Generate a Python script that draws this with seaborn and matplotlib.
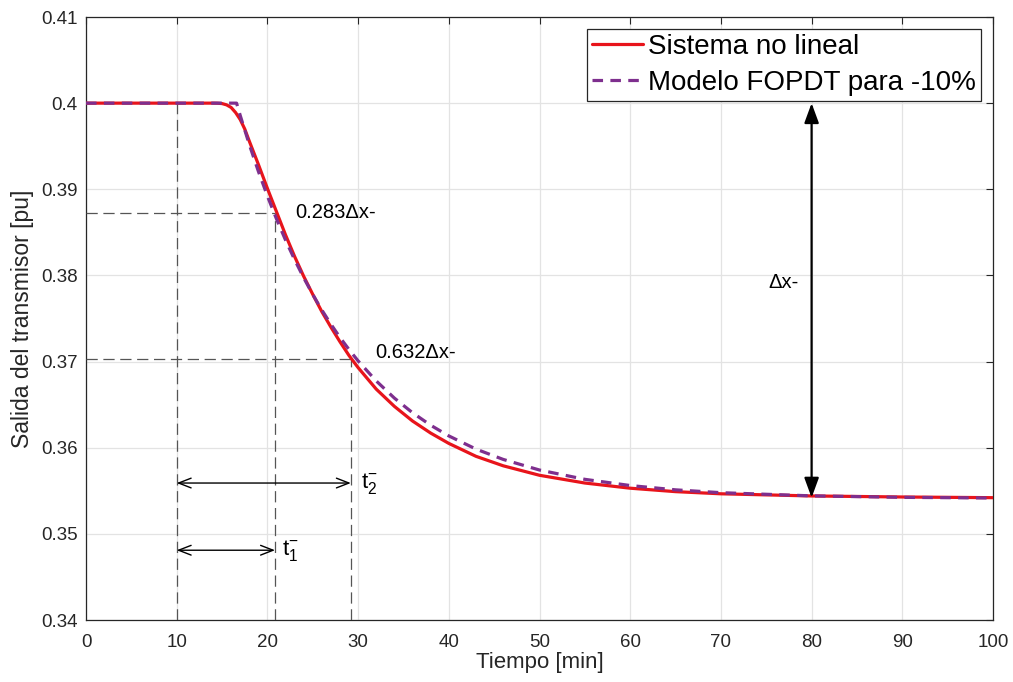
import matplotlib
matplotlib.use("Agg")
import matplotlib.pyplot as plt
import pandas as pd
import seaborn as sns

# ---- data ----
t_sys = [0, 10, 14, 14.5, 15, 15.5, 16, 16.5, 17, 17.5, 18, 19, 20, 21, 22, 23, 24, 25,
         26, 27, 28, 29, 30, 32, 34, 36, 38, 40, 43, 46, 50, 55, 60, 65, 70, 80, 90, 100]
y_sys = [0.4, 0.4, 0.4, 0.39999, 0.39995, 0.3998, 0.3995, 0.3989, 0.3981, 0.3970, 0.3956,
         0.3929, 0.3901, 0.3874, 0.3847, 0.3822, 0.3799, 0.3778, 0.3758, 0.3740, 0.3723,
         0.3707, 0.3693, 0.3668, 0.3648, 0.3631, 0.3617, 0.3605, 0.3590, 0.3579, 0.3568,
         0.3559, 0.3553, 0.3549, 0.35465, 0.3544, 0.35428, 0.3542]

t_mod = [0, 10, 16.6, 17, 18, 19, 20, 21, 22, 23, 24, 25, 26, 27, 28, 29, 30, 32, 34, 36,
         38, 40, 43, 46, 50, 55, 60, 65, 70, 80, 90, 100]
y_mod = [0.4, 0.4, 0.4, 0.39858, 0.39521, 0.3921, 0.38922, 0.38656, 0.3841, 0.38183,
         0.37973, 0.37779, 0.37599, 0.37434, 0.3728, 0.37139, 0.37008, 0.36775, 0.36576,
         0.36406, 0.36261, 0.36137, 0.35984, 0.35864, 0.35741, 0.35633, 0.35561, 0.35511,
         0.35478, 0.35441, 0.35424, 0.35416]

series_names = ["Sistema no lineal", "Modelo FOPDT para -10%"]
series_colors = ["#E8141B", "#7E2F8E"]

x_ticks = [0, 10, 20, 30, 40, 50, 60, 70, 80, 90, 100]
y_ticks = [0.34, 0.35, 0.36, 0.37, 0.38, 0.39, 0.40, 0.41]
y_tick_labels = ["0.34", "0.35", "0.36", "0.37", "0.38", "0.39", "0.4", "0.41"]

# annotation values
t_start = 10
t_1 = 20.84
t_2 = 29.2
y_283 = 0.3873
y_632 = 0.3703
y_initial = 0.4
y_final = 0.3542
t_delta = 80
y_arrow_t2 = 0.3559
y_arrow_t1 = 0.3481

# ---- figure ----
sns.set_theme(style="whitegrid")
plt.rcParams["font.family"] = ["Liberation Sans", "DejaVu Sans"]
plt.rcParams["mathtext.fontset"] = "custom"
plt.rcParams["mathtext.rm"] = "Liberation Sans"
plt.rcParams["mathtext.it"] = "Liberation Sans"

fig = plt.figure(figsize=(10.13, 6.82), dpi=100)
fig.patch.set_facecolor("white")
ax = fig.add_axes([86 / 1013, 62 / 682, 907 / 1013, 603 / 682])
ax.set_facecolor("white")

df = pd.concat([
    pd.DataFrame({"t": t_sys, "y": y_sys, "serie": series_names[0]}),
    pd.DataFrame({"t": t_mod, "y": y_mod, "serie": series_names[1]}),
])

sns.lineplot(data=df, x="t", y="y", hue="serie", style="serie",
             hue_order=series_names, style_order=series_names,
             palette=dict(zip(series_names, series_colors)),
             dashes={series_names[0]: "", series_names[1]: (3.3, 2.3)},
             linewidth=2.3, estimator=None, ax=ax, zorder=5)

# reference dashed lines
ref = dict(color="#555555", lw=0.9, linestyle=(0, (9, 4.5)), zorder=3)
ax.plot([0, t_1], [y_283, y_283], **ref)
ax.plot([0, t_2], [y_632, y_632], **ref)
ax.plot([t_start, t_start], [0.34, y_initial], **ref)
ax.plot([t_1, t_1], [0.34, y_283], **ref)
ax.plot([t_2, t_2], [0.34, y_632], **ref)

# arrows
small = dict(arrowstyle="<->,head_length=0.9,head_width=0.35", color="black", lw=1.0,
             shrinkA=0, shrinkB=0, mutation_scale=10)
ax.annotate("", xy=(t_2, y_arrow_t2), xytext=(t_start, y_arrow_t2), arrowprops=small, zorder=6)
ax.annotate("", xy=(t_1, y_arrow_t1), xytext=(t_start, y_arrow_t1), arrowprops=small, zorder=6)
big = dict(arrowstyle="<|-|>,head_length=0.6,head_width=0.22", color="black", lw=1.6,
           shrinkA=0, shrinkB=0, mutation_scale=20)
ax.annotate("", xy=(t_delta, y_final), xytext=(t_delta, y_initial), arrowprops=big, zorder=6)

# texts
ax.text(23.1, y_283, "0.283Δx-", fontsize=14.5, va="center", ha="left", color="black", zorder=7)
ax.text(31.9, 0.3711, "0.632Δx-", fontsize=14.5, va="center", ha="left", color="black", zorder=7)
ax.text(75.2, 0.3792, "Δx-", fontsize=14.5, va="center", ha="left", color="black", zorder=7)
ax.text(30.3, y_arrow_t2, r"$\mathregular{t_2^{-}}$", fontsize=16, va="center", ha="left",
        color="black")
ax.text(21.6, y_arrow_t1, r"$\mathregular{t_1^{-}}$", fontsize=16, va="center", ha="left",
        color="black")

# axes styling
ax.set_xlim(0, 100)
ax.set_ylim(0.34, 0.41)
ax.set_xticks(x_ticks)
ax.set_xticklabels([str(v) for v in x_ticks])
ax.set_yticks(y_ticks)
ax.set_yticklabels(y_tick_labels)
ax.set_xlabel("Tiempo [min]", fontsize=16, color="#262626", labelpad=1)
ax.set_ylabel("Salida del transmisor [pu]", fontsize=16.5, color="#262626", labelpad=5)
ax.grid(True, color="#e3e3e3", lw=0.9)
ax.tick_params(axis="both", which="both", direction="in", length=5, width=0.8,
               colors="#262626", labelsize=13.5, top=True, right=True,
               labeltop=False, labelright=False)
ax.tick_params(axis="x", pad=10)
ax.tick_params(axis="y", pad=6)
for s in ax.spines.values():
    s.set_visible(True)
    s.set_color("#262626")
    s.set_linewidth(0.9)
ax.set_axisbelow(True)

handles, labels = ax.get_legend_handles_labels()
leg = ax.legend(handles, labels, loc="upper right", fontsize=20, frameon=True,
                fancybox=False, edgecolor="#262626", framealpha=1, handlelength=1.87,
                handletextpad=0.18, borderpad=0.18, labelspacing=0.38,
                borderaxespad=0.42)
leg.get_frame().set_linewidth(0.9)
for txt in leg.get_texts():
    txt.set_color("black")
for line in leg.get_lines():
    line.set_linewidth(2.3)

fig.savefig("out.png", dpi=100, facecolor="white")
